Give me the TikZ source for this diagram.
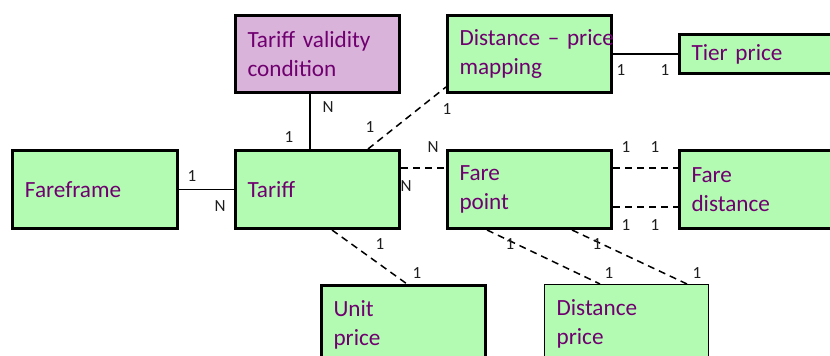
\documentclass[tikz,border=0pt]{standalone}
\usepackage{fontspec}
\setmainfont{Carlito}
\usetikzlibrary{calc}
\definecolor{boxgreen}{RGB}{179,251,179}
\definecolor{boxpurple}{RGB}{217,179,217}
\definecolor{txtpurple}{RGB}{112,0,112}
\definecolor{lblgray}{RGB}{30,30,30}
\tikzset{
  entity/.style={draw=black, line width=1.5pt, fill=boxgreen, anchor=north west,
    minimum width=82pt, minimum height=39pt, inner xsep=6pt, inner ysep=0pt,
    text width=70pt, align=left, text=txtpurple,
    font=\fontsize{11.6pt}{14.5pt}\selectfont},
  shortbox/.style={minimum height=19.5pt},
  conn/.style={line width=0.75pt, black},
  dconn/.style={conn, dash pattern=on 3.5pt off 2.5pt},
  lbl/.style={font=\fontsize{8.5pt}{10pt}\selectfont, text=lblgray, inner sep=0pt}
}
\begin{document}
\begin{tikzpicture}[x=0.5pt,y=-0.5pt]
\useasboundingbox (0,0) rectangle (830,356);
\clip (0,0) rectangle (830,356);
\fill[white] (0,0) rectangle (830,356);

% entities
\node[entity, fill=boxpurple, minimum height=38.5pt] (tvc) at (234,14) {Tariff validity\\condition};
\node[entity, minimum height=38.5pt] (dpm) at (446,14) {\mbox{Distance -- price}\\mapping};
\node[entity, shortbox] (tier) at (678,33) {Tier price};
\node[entity, minimum width=82.5pt] (ff) at (11,149) {Fareframe};
\node[entity] (tariff) at (234,149) {Tariff};
\node[entity] (fp) at (446,149) {Fare\\point};
\node[entity] (fd) at (678,149) {Fare\\distance};
\node[entity] (up) at (320,284) {Unit\\price};
\node[entity, line width=0.6pt] (dp) at (544,284) {Distance\\price};

% connectors
\draw[conn] ($(tvc.south west)+(76,0)$) -- ($(tariff.north west)+(76,0)$);
\draw[conn] (ff.east) -- (tariff.west);
\draw[dconn] ($(tariff.north west)+(134,0)$) -- ($(dpm.south west)+(0,-7)$);
\draw[dconn] ($(tariff.north east)+(0,19)$) -- ($(fp.north west)+(0,19)$);
\draw[conn] (dpm.east) -- (tier.west);
\draw[dconn] ($(fp.north east)+(0,19)$) -- ($(fd.north west)+(0,19)$);
\draw[dconn] ($(fp.north east)+(0,58)$) -- ($(fd.north west)+(0,58)$);
\draw[dconn] ($(tariff.south west)+(98,0)$) -- ($(up.north west)+(87,0)$);
\draw[dconn] ($(fp.south west)+(41,0)$) -- ($(dp.north west)+(56,0)$);
\draw[dconn] ($(fp.south west)+(126,0)$) -- ($(dp.north west)+(143,0)$);

% cardinality labels
\node[lbl] (l1) at (328,107) {N};
\node[lbl] (l2) at (289,137) {1};
\node[lbl] (l3) at (370,127) {1};
\node[lbl] (l4) at (447,109) {1};
\node[lbl] (l5) at (433,147) {N};
\node[lbl] (l6) at (406,186) {N};
\node[lbl] (l7) at (621,70) {1};
\node[lbl] (l8) at (665,70) {1};
\node[lbl] (l9) at (626,147) {1};
\node[lbl] (l10) at (655,147) {1};
\node[lbl] (l11) at (626,225) {1};
\node[lbl] (l12) at (655,225) {1};
\node[lbl] (l13) at (192,176) {1};
\node[lbl] (l14) at (220,206) {N};
\node[lbl] (l15) at (380,244) {1};
\node[lbl] (l16) at (417,273) {1};
\node[lbl] (l17) at (510,244) {1};
\node[lbl] (l18) at (597,244) {1};
\node[lbl] (l19) at (609,273) {1};
\node[lbl] (l20) at (697,273) {1};
\end{tikzpicture}
\end{document}
